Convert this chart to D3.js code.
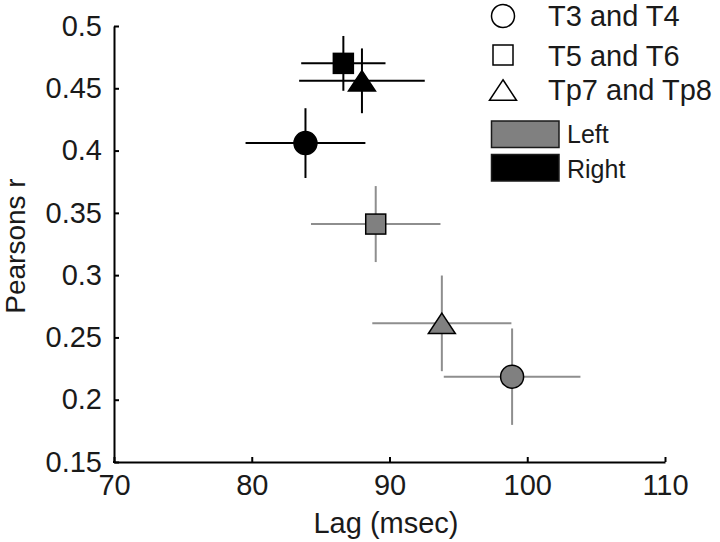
<!DOCTYPE html>
<html>
<head>
<meta charset="utf-8">
<script src="https://cdn.jsdelivr.net/npm/d3@7"></script>
<style>
  html, body { margin: 0; padding: 0; background: #fff; }
  svg { display: block; font-family: "Liberation Sans", Arial, sans-serif; }
</style>
</head>
<body>
<svg id="chart" width="720" height="542"></svg>
<script>
// ---- data ----
const categories = ["T3 and T4", "T5 and T6", "Tp7 and Tp8"];
const shapes = ["circle", "square", "triangle"];
const sides = ["Left", "Right"];

const leftLag = [98.9, 89.0, 93.8];
const leftLagErr = [4.96, 4.7, 5.05];
const leftR = [0.2185, 0.341, 0.2613];
const leftRErr = [0.0387, 0.0305, 0.0384];

const rightLag = [83.9, 86.65, 88.0];
const rightLagErr = [4.35, 3.06, 4.56];
const rightR = [0.406, 0.470, 0.456];
const rightRErr = [0.028, 0.022, 0.026];

const xTicks = [70, 80, 90, 100, 110];
const yTicks = [0.15, 0.2, 0.25, 0.3, 0.35, 0.4, 0.45, 0.5];

// ---- build ----
const svg = d3.select("#chart");
const x = d3.scaleLinear().domain([70, 110]).range([114, 665]);
const y = d3.scaleLinear().domain([0.15, 0.5]).range([462, 26]);

const sideStyle = {
  Left: { fill: "#808080", err: "#8e8e8e" },
  Right: { fill: "#000000", err: "#000000" }
};

const points = [];
categories.forEach((c, i) => {
  points.push({ side: "Left", cat: c, shape: shapes[i], lag: leftLag[i], lagErr: leftLagErr[i], r: leftR[i], rErr: leftRErr[i] });
  points.push({ side: "Right", cat: c, shape: shapes[i], lag: rightLag[i], lagErr: rightLagErr[i], r: rightR[i], rErr: rightRErr[i] });
});

// axes
const fontSize = 29;
const xAxis = d3.axisBottom(x).tickValues(xTicks).tickSizeInner(-5).tickSizeOuter(0).tickPadding(12).tickFormat(d3.format("d"));
const yAxis = d3.axisLeft(y).tickValues(yTicks).tickSizeInner(-5).tickSizeOuter(0).tickPadding(12).tickFormat(d => String(+d.toFixed(2)));

const gx = svg.append("g").attr("transform", `translate(0,${y(0.15)})`).call(xAxis);
const gy = svg.append("g").attr("transform", `translate(${x(70)},0)`).call(yAxis);
[gx, gy].forEach(g => {
  g.select(".domain").attr("stroke", "#000").attr("stroke-width", 2);
  g.selectAll(".tick line").attr("stroke", "#000").attr("stroke-width", 2);
  g.selectAll(".tick text").attr("fill", "#1a1a1a").style("font-size", fontSize + "px").style("font-family", '"Liberation Sans", Arial, sans-serif');
});
// square corner join
svg.append("rect").attr("x", x(70) - 1).attr("y", y(0.15) - 1).attr("width", 2).attr("height", 2).attr("fill", "#000");

// labels
svg.append("text").attr("x", 386).attr("y", 533).attr("text-anchor", "middle")
  .style("font-size", fontSize + "px").attr("fill", "#1a1a1a").text("Lag (msec)");
svg.append("text").attr("transform", "translate(25,246) rotate(-90)").attr("text-anchor", "middle")
  .style("font-size", "28px").attr("fill", "#1a1a1a").text("Pearsons r");

// symbol generator
function drawMarker(g, shape, cx, cy, fill, stroke, sw) {
  if (shape === "circle") {
    g.append("circle").attr("cx", cx).attr("cy", cy).attr("r", 11.5)
      .attr("fill", fill).attr("stroke", stroke).attr("stroke-width", sw);
  } else if (shape === "square") {
    g.append("rect").attr("x", cx - 10).attr("y", cy - 10).attr("width", 20).attr("height", 20)
      .attr("fill", fill).attr("stroke", stroke).attr("stroke-width", sw);
  } else {
    const w = 27, h = 20.5;
    g.append("path").attr("d", `M${cx},${cy - h / 2} L${cx + w / 2},${cy + h / 2} L${cx - w / 2},${cy + h / 2} Z`)
      .attr("fill", fill).attr("stroke", stroke).attr("stroke-width", sw).attr("stroke-linejoin", "miter");
  }
}

// error bars
const gErr = svg.append("g");
points.forEach(p => {
  const col = sideStyle[p.side].err;
  gErr.append("line").attr("x1", x(p.lag - p.lagErr)).attr("x2", x(p.lag + p.lagErr))
    .attr("y1", y(p.r)).attr("y2", y(p.r)).attr("stroke", col).attr("stroke-width", 2);
  gErr.append("line").attr("x1", x(p.lag)).attr("x2", x(p.lag))
    .attr("y1", y(p.r - p.rErr)).attr("y2", y(p.r + p.rErr)).attr("stroke", col).attr("stroke-width", 2);
});

// markers
const gM = svg.append("g");
points.forEach(p => {
  drawMarker(gM, p.shape, x(p.lag), y(p.r), sideStyle[p.side].fill, "#000", 1.5);
});

// legend
const legY = [16, 55, 90];
const legBase = [26, 66, 100];
const gL = svg.append("g");
categories.forEach((c, i) => {
  drawMarker(gL, shapes[i], 503, legY[i], "none", "#000", 1.5);
  gL.append("text").attr("x", 548).attr("y", legBase[i]).style("font-size", fontSize + "px")
    .attr("fill", "#1a1a1a").text(c);
});
const rectY = [121, 154.5];
const textBase = [143, 178];
sides.forEach((s, i) => {
  gL.append("rect").attr("x", 491.5).attr("y", rectY[i]).attr("width", 67.5).attr("height", 26.5)
    .attr("fill", sideStyle[s].fill).attr("stroke", "#1a1a1a").attr("stroke-width", 1.5);
  gL.append("text").attr("x", 567).attr("y", textBase[i]).style("font-size", "25px")
    .attr("fill", "#1a1a1a").text(s);
});
</script>
</body>
</html>
